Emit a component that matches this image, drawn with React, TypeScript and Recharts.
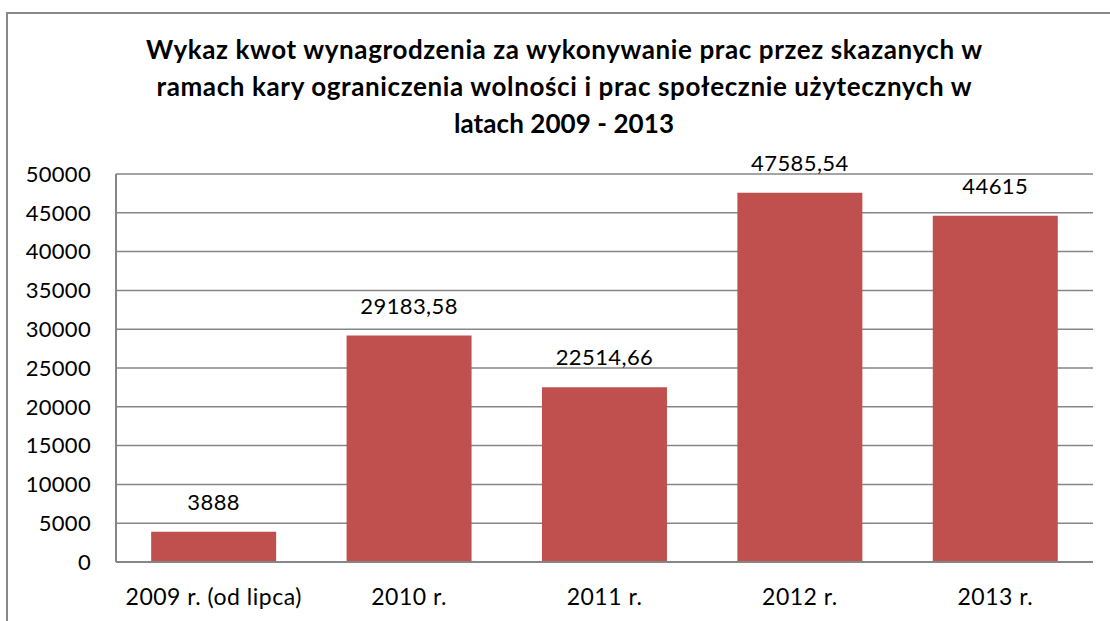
import React from 'react'
import { BarChart, Bar, XAxis, YAxis, CartesianGrid, LabelList } from 'recharts'

const categories = ['2009 r. (od lipca)', '2010 r.', '2011 r.', '2012 r.', '2013 r.']
const amounts = [3888, 29183.58, 22514.66, 47585.54, 44615]
const yTicks = [0, 5000, 10000, 15000, 20000, 25000, 30000, 35000, 40000, 45000, 50000]
const titleLines = [
  'Wykaz kwot wynagrodzenia za wykonywanie prac przez skazanych w',
  'ramach kary ograniczenia wolności i prac społecznie użytecznych w',
  'latach 2009 - 2013',
]

const data = categories.map((name, i) => ({ name, value: amounts[i] }))

const FONT = 'Lato, "Open Sans", sans-serif'
const formatValue = (v: any) => String(v).replace('.', ',')

// title line layout (baseline y, width in px)
const titleLayout = [
  { y: 59, w: 836 },
  { y: 96, w: 815 },
  { y: 133, w: 220 },
]

export default function App() {
  return (
    <div style={{ position: 'absolute', left: 0, top: 0, width: 1110, height: 621, overflow: 'hidden', background: '#fff' }}>
      <div
        style={{
          position: 'absolute',
          left: 6,
          top: 12,
          width: 1200,
          height: 700,
          border: '2px solid #898989',
          boxSizing: 'border-box',
        }}
      />
      <svg width={1110} height={150} style={{ position: 'absolute', left: 0, top: 0 }}>
        {titleLines.map((line, i) => (
          <text
            key={i}
            x={564}
            y={titleLayout[i].y}
            textAnchor="middle"
            textLength={titleLayout[i].w}
            fontFamily={FONT}
            fontWeight="bold"
            fontSize={26}
            fill="#000"
          >
            {line}
          </text>
        ))}
      </svg>
      <div style={{ position: 'absolute', left: 0, top: 0 }}>
        <BarChart
          width={1110}
          height={621}
          data={data}
          margin={{ top: 174, right: 17, bottom: 0, left: 0 }}
          barCategoryGap="18%"
        >
          <CartesianGrid vertical={false} stroke="#868686" strokeWidth={1.5} />
          <XAxis
            dataKey="name"
            height={59}
            stroke="#868686"
            strokeWidth={2}
            tickLine={false}
            tickSize={0}
            tickMargin={27}
            tick={{ fill: '#000', fontSize: 23, fontFamily: FONT, letterSpacing: 0.5 }}
            interval={0}
          />
          <YAxis
            width={116}
            domain={[0, 50000]}
            ticks={yTicks}
            stroke="#868686"
            strokeWidth={2}
            tickLine={false}
            tickSize={0}
            tickMargin={25}
            tick={{ fill: '#000', fontSize: 22, fontFamily: FONT, letterSpacing: 0.3 }}
            interval={0}
          />
          <Bar dataKey="value" fill="#C0504D" isAnimationActive={false}>
            <LabelList
              dataKey="value"
              position="top"
              offset={22}
              formatter={formatValue}
              style={{ fill: '#000', fontSize: 22, fontFamily: FONT, letterSpacing: 0.4 }}
            />
          </Bar>
        </BarChart>
      </div>
    </div>
  )
}
